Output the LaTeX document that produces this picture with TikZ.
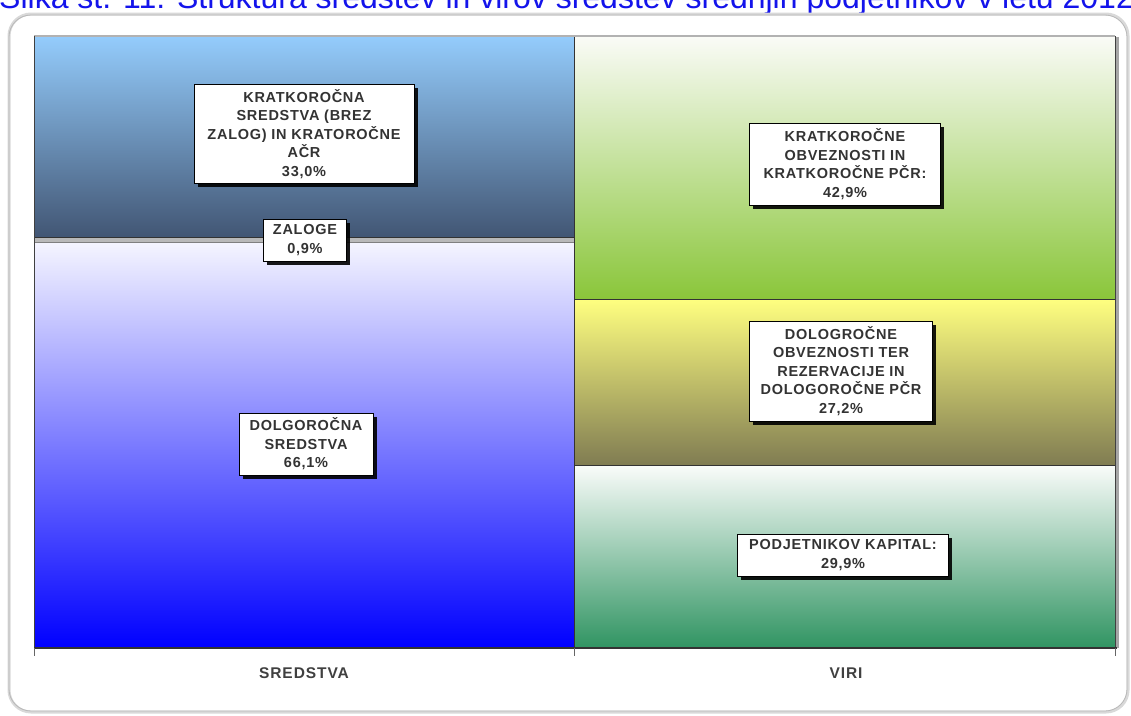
\documentclass[tikz,border=0pt]{standalone}
\usepackage{fontspec}
\setmainfont{Liberation Sans}
\newfontfamily\lblfont[LetterSpace=5]{Liberation Sans}
\newfontfamily\axfont[LetterSpace=6]{Liberation Sans}
\usetikzlibrary{shadows}
\definecolor{titleblue}{RGB}{20,20,235}
\definecolor{ltop}{RGB}{148,204,252}
\definecolor{lbot}{RGB}{66,86,116}
\definecolor{dtop}{RGB}{245,245,255}
\definecolor{dbot}{RGB}{0,0,255}
\definecolor{gtop}{RGB}{250,251,247}
\definecolor{gbot}{RGB}{138,198,58}
\definecolor{ytop}{RGB}{255,255,128}
\definecolor{ybot}{RGB}{128,124,82}
\definecolor{ktop}{RGB}{250,252,250}
\definecolor{kbot}{RGB}{48,148,98}
\begin{document}
\begin{tikzpicture}[x=1pt,y=-1pt,
  lbl/.style={draw=black, line width=0.8pt, fill=white, align=center,
    font=\lblfont\bfseries\fontsize{14.5}{18.5}\selectfont, text=black!80, inner sep=0pt,
    drop shadow={shadow xshift=3.5pt, shadow yshift=-3.5pt, opacity=0.9, fill=black}},
  axlbl/.style={font=\axfont\bfseries\fontsize{15.5}{17}\selectfont, text=black!75, inner sep=0pt},
  divline/.style={draw=black!80, line width=0.9pt},
  tick/.style={draw=black!60, line width=0.6pt}]
\useasboundingbox (0,0) rectangle (1131,715);
\fill[white] (0,0) rectangle (1131,715);
% title (cut at top, as in the source)
\node[anchor=base west, font=\fontsize{32}{32}\selectfont, text=titleblue, inner sep=0pt] (title) at (-1,8) {Slika št. 11: Struktura sredstev in virov sredstev srednjih podjetnikov v letu 2012};
% outer frame
\draw[gray!30, line width=3pt, rounded corners=22pt] (9,14) rectangle (1128,712);
\draw[gray!55, line width=0.8pt, rounded corners=22pt] (9,15) rectangle (1127,711);
% left column
\shade[top color=ltop, bottom color=lbot] (34,36) rectangle (574,237);
\fill[gray!55] (34,237) rectangle (574,242);
\shade[top color=dtop, bottom color=dbot] (34,242) rectangle (574,648);
% right column
\shade[top color=gtop, bottom color=gbot] (574,36) rectangle (1115,299);
\shade[top color=ytop, bottom color=ybot] (574,299) rectangle (1115,465);
\shade[top color=ktop, bottom color=kbot] (574,465) rectangle (1115,648);
% dividers
\draw[divline] (34,237) -- (574,237);
\draw[draw=black!50, line width=0.6pt] (34,242) -- (574,242);
\draw[divline] (574,299) -- (1115,299);
\draw[divline] (574,465) -- (1115,465);
\draw[divline] (574,36) -- (574,648);
% chart frame
\draw[draw=gray!60, line width=2pt] (34,36) -- (1115,36);
\draw[draw=gray!70, line width=3pt] (1117,37) -- (1117,648);
\draw[draw=black!75, line width=1pt] (34,36) -- (34,648);
\draw[draw=black!75, line width=1pt] (1115,36) -- (1115,648);
\draw[draw=black!80, line width=1.2pt] (34,648) -- (1117,648);
\draw[tick] (34,648) -- (34,656);
\draw[tick] (574,648) -- (574,656);
\draw[tick] (1115,648) -- (1115,656);
% labels
\node[lbl, minimum width=220pt, minimum height=99pt] (kratsr) at (304,134) {KRATKOROČNA\\SREDSTVA (BREZ\\ZALOG) IN KRATOROČNE\\AČR\\33,0\%};
\node[lbl, minimum width=83pt, minimum height=42pt] (zaloge) at (305,240) {ZALOGE\\0,9\%};
\node[lbl, minimum width=134pt, minimum height=62pt] (dolgsr) at (306,444) {DOLGOROČNA\\SREDSTVA\\66,1\%};
\node[lbl, minimum width=191pt, minimum height=82pt] (kratobv) at (845,164) {KRATKOROČNE\\OBVEZNOSTI IN\\KRATKOROČNE PČR:\\42,9\%};
\node[lbl, minimum width=183pt, minimum height=100pt] (dolgobv) at (841,371) {DOLOGROČNE\\OBVEZNOSTI TER\\REZERVACIJE IN\\DOLOGOROČNE PČR\\27,2\%};
\node[lbl, minimum width=211pt, minimum height=42pt] (kapital) at (843,555) {PODJETNIKOV KAPITAL:\\29,9\%};
% axis labels
\node[axlbl] (sredstva) at (304,673) {SREDSTVA};
\node[axlbl] (viri) at (846,673) {VIRI};
\end{tikzpicture}
\end{document}
